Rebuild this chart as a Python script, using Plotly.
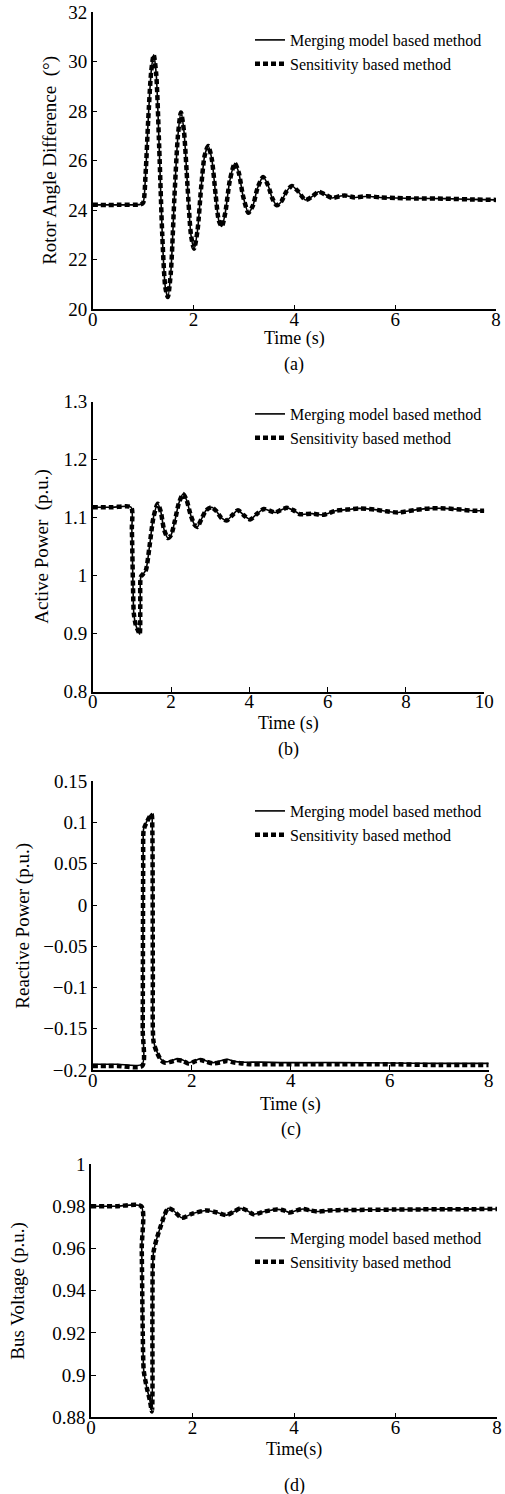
import plotly.graph_objects as go

W, H = 505, 1494
FONT = "Liberation Serif, Times New Roman, serif"

# ---------------- Data ----------------
# (a) Rotor angle difference (deg)
t_a = [0, 0.5, 0.95, 1.0, 1.05, 1.1, 1.16, 1.21, 1.26, 1.32, 1.38, 1.44, 1.49, 1.55, 1.62, 1.69,
       1.75, 1.81, 1.88, 1.95, 2.01, 2.08, 2.15, 2.22, 2.29, 2.36, 2.44, 2.5, 2.56, 2.63, 2.72,
       2.82, 2.9, 2.98, 3.09, 3.18, 3.27, 3.38, 3.48, 3.56, 3.65, 3.74, 3.84, 3.95, 4.06, 4.22,
       4.35, 4.48, 4.6, 4.75, 4.9, 5.0, 5.2, 5.45, 5.7, 6.0, 6.4, 7.0, 7.5, 8.0]
angle = [24.22, 24.22, 24.24, 24.3, 25.5, 27.6, 29.6, 30.28, 29.5, 26.5, 23.0, 20.9, 20.5, 21.5,
         24.5, 27.0, 27.95, 27.2, 25.0, 23.0, 22.45, 23.2, 24.9, 26.2, 26.6, 26.1, 24.6, 23.6,
         23.35, 23.9, 25.2, 25.9, 25.5, 24.6, 23.9, 24.2, 24.9, 25.35, 25.0, 24.5, 24.2, 24.35,
         24.75, 24.98, 24.8, 24.42, 24.55, 24.75, 24.65, 24.5, 24.57, 24.6, 24.52, 24.57, 24.52,
         24.5, 24.48, 24.47, 24.44, 24.42]

# (b) Active power (p.u.)
t_b = [0, 0.5, 0.98, 1.0, 1.03, 1.05, 1.1, 1.16, 1.2, 1.215, 1.23, 1.3, 1.36, 1.45, 1.55, 1.66,
       1.74, 1.82, 1.92, 2.0, 2.1, 2.2, 2.31, 2.4, 2.5, 2.6, 2.67, 2.78, 2.9, 3.04, 3.15, 3.28,
       3.42, 3.56, 3.71, 3.86, 4.02, 4.2, 4.37, 4.52, 4.66, 4.8, 4.96, 5.12, 5.3, 5.6, 5.9, 6.2,
       6.5, 6.8, 7.2, 7.5, 7.8, 8.2, 8.6, 9.0, 9.4, 9.7, 10.0]
p_act = [1.118, 1.118, 1.118, 1.08, 0.98, 0.935, 0.915, 0.905, 0.899, 0.95, 0.998, 1.004, 1.01,
         1.05, 1.1, 1.124, 1.11, 1.08, 1.065, 1.07, 1.095, 1.125, 1.141, 1.13, 1.105, 1.088,
         1.084, 1.098, 1.113, 1.118, 1.112, 1.1, 1.095, 1.104, 1.113, 1.104, 1.097, 1.107,
         1.115, 1.112, 1.109, 1.113, 1.117, 1.113, 1.106, 1.107, 1.105, 1.112, 1.114, 1.116,
         1.114, 1.111, 1.109, 1.113, 1.116, 1.116, 1.114, 1.112, 1.112]

# (c) Reactive power (p.u.)
t_c = [0, 0.5, 1.0, 1.01, 1.02, 1.03, 1.08, 1.15, 1.19, 1.205, 1.215, 1.23, 1.3, 1.38, 1.45,
       1.58, 1.7, 1.82, 1.93, 2.05, 2.17, 2.3, 2.43, 2.57, 2.71, 2.86, 3.01, 3.2, 3.4, 3.8, 4.5,
       5.0, 6.0, 7.0, 8.0]
q_merge = [-0.193, -0.193, -0.193, -0.15, 0.05, 0.093, 0.1, 0.108, 0.111, 0.09, -0.08, -0.165,
           -0.178, -0.187, -0.19, -0.189, -0.1865, -0.188, -0.1912, -0.189, -0.1865, -0.189,
           -0.1912, -0.189, -0.187, -0.1895, -0.1905, -0.1905, -0.1905, -0.191, -0.191, -0.191,
           -0.1915, -0.192, -0.192]
q_sens = [-0.195, -0.195, -0.195, -0.15, 0.05, 0.091, 0.099, 0.107, 0.11, 0.09, -0.08, -0.166,
          -0.179, -0.188, -0.191, -0.19, -0.188, -0.189, -0.192, -0.19, -0.188, -0.19,
          -0.192, -0.191, -0.189, -0.191, -0.192, -0.193, -0.193, -0.193, -0.193, -0.193,
          -0.193, -0.194, -0.194]

# (d) Bus voltage (p.u.)
t_d = [0, 0.5, 0.99, 1.0, 1.02, 1.04, 1.1, 1.16, 1.2, 1.21, 1.23, 1.3, 1.38, 1.45, 1.52, 1.62,
       1.79, 2.0, 2.28, 2.48, 2.67, 2.82, 2.95, 3.07, 3.2, 3.42, 3.66, 3.8, 3.91, 4.05, 4.18,
       4.32, 4.47, 4.7, 5.0, 5.5, 6.0, 6.5, 7.0, 7.5, 8.0]
volt = [0.98, 0.98, 0.98, 0.96, 0.92, 0.902, 0.894, 0.888, 0.8828, 0.93, 0.958, 0.965, 0.971,
        0.976, 0.979, 0.978, 0.9745, 0.9765, 0.978, 0.977, 0.9758, 0.9775, 0.979, 0.978,
        0.9762, 0.9775, 0.9785, 0.978, 0.977, 0.978, 0.9787, 0.978, 0.9775, 0.978, 0.9782,
        0.9783, 0.9784, 0.9785, 0.9786, 0.9786, 0.9787]

panels = [
    dict(t=t_a, m=angle, s=angle, xr=[0, 8], yr=[20, 32], dy=2, dx=2,
         px=(92.7, 496), py=(12.3, 309.3), ytitle="Rotor Angle Difference  (°)", ytx=50,
         leg_top=23, xt_y=339, cap="(a)", cap_y=364, xtitle="Time (s)"),
    dict(t=t_b, m=p_act, s=p_act, xr=[0, 10], yr=[0.8, 1.3], dy=0.1, dx=2,
         px=(92.7, 484.3), py=(401.7, 691.7), ytitle="Active Power  (p.u.)", ytx=42,
         leg_top=397, xt_y=723, cap="(b)", cap_y=749, xtitle="Time (s)"),
    dict(t=t_c, m=q_merge, s=q_sens, xr=[0, 8], yr=[-0.2, 0.15], dy=0.05, dx=2,
         px=(92.7, 488.7), py=(781.3, 1070), ytitle="Reactive Power (p.u.)", ytx=23,
         leg_top=794, xt_y=1104, cap="(c)", cap_y=1129, xtitle="Time (s)"),
    dict(t=t_d, m=volt, s=volt, xr=[0, 8], yr=[0.88, 1.0], dy=0.02, dx=2,
         px=(91, 497), py=(1164, 1417.3), ytitle="Bus Voltage (p.u.)", ytx=18,
         leg_top=1221, xt_y=1449, cap="(d)", cap_y=1485, xtitle="Time(s)"),
]

fig = go.Figure()
annotations = []
layout = {}
for i, p in enumerate(panels):
    n = "" if i == 0 else str(i + 1)
    xa, ya = "x" + n, "y" + n
    leg = "legend" + n
    fig.add_trace(go.Scatter(x=p["t"], y=p["m"], mode="lines", name="Merging model based method",
                             line=dict(color="black", width=1.6, shape="spline", smoothing=0.7),
                             xaxis=xa, yaxis=ya, legend=leg))
    fig.add_trace(go.Scatter(x=p["t"], y=p["s"], mode="lines", name="Sensitivity based method",
                             line=dict(color="black", width=4.5, dash="5px,3px", shape="spline",
                                       smoothing=0.7),
                             xaxis=xa, yaxis=ya, legend=leg))
    x0, x1 = p["px"][0] / W, p["px"][1] / W
    y0, y1 = 1 - p["py"][1] / H, 1 - p["py"][0] / H
    common = dict(showline=True, linecolor="black", linewidth=1.5, ticks="inside", ticklen=5,
                  tickwidth=1.3, tickcolor="black", showgrid=False, zeroline=False,
                  automargin=False,
                  tickfont=dict(family=FONT, size=19, color="black"), fixedrange=True)
    layout["xaxis" + n] = dict(domain=[x0, x1], range=p["xr"], dtick=p["dx"], tick0=0,
                               anchor=ya, ticklabelstandoff=-8, **common)
    layout["yaxis" + n] = dict(domain=[y0, y1], range=p["yr"], dtick=p["dy"], tick0=0,
                               anchor=xa, **common)
    layout[leg] = dict(x=250 / W, y=1 - p["leg_top"] / H, xanchor="left", yanchor="top",
                       bgcolor="rgba(0,0,0,0)", font=dict(family=FONT, size=16, color="black"),
                       itemwidth=30, tracegroupgap=0)
    annotations.append(dict(text=p["ytitle"], xref="paper", yref="paper", x=p["ytx"] / W,
                            y=(y0 + y1) / 2, textangle=-90, showarrow=False, xanchor="center",
                            yanchor="middle", font=dict(family=FONT, size=19, color="black")))
    xc = (p["px"][0] + p["px"][1]) / 2 / W
    annotations.append(dict(text=p["xtitle"], xref="paper", yref="paper", x=xc,
                            y=1 - p["xt_y"] / H, showarrow=False, xanchor="center",
                            yanchor="middle", font=dict(family=FONT, size=18, color="black")))
    annotations.append(dict(text=p["cap"], xref="paper", yref="paper", x=xc,
                            y=1 - p["cap_y"] / H, showarrow=False, xanchor="center",
                            yanchor="middle", font=dict(family=FONT, size=18, color="black")))

fig.update_layout(width=W, height=H, margin=dict(l=0, r=0, t=0, b=0, pad=0),
                  paper_bgcolor="white", plot_bgcolor="white", showlegend=True,
                  font=dict(family=FONT, color="black"),
                  annotations=annotations, **layout)
fig.write_html("out.html", config={"displayModeBar": False},
               post_script="document.body.style.margin='0px';document.body.style.overflow='hidden';")
